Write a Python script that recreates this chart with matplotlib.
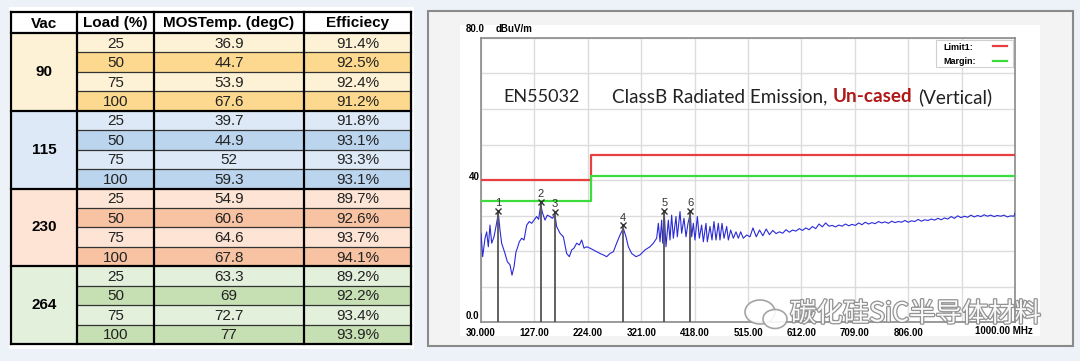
"""
Thermal / efficiency table and EN55032 radiated emission scan
"""

import numpy as np
import matplotlib
matplotlib.use('Agg')
import matplotlib.pyplot as plt
from matplotlib.patches import Rectangle, Ellipse
import matplotlib.patheffects as pe

# ---------------- table data ----------------
VAC = [90, 115, 230, 264]
LOAD = [25, 50, 75, 100]
MOS_TEMP = [[36.9, 44.7, 53.9, 67.6],
            [39.7, 44.9, 52, 59.3],
            [54.9, 60.6, 64.6, 67.8],
            [63.3, 69, 72.7, 77]]
EFFICIENCY = [[91.4, 92.5, 92.4, 91.2],
              [91.8, 93.1, 93.3, 93.1],
              [89.7, 92.6, 93.7, 94.1],
              [89.2, 92.2, 93.4, 93.9]]
HEADERS = ['Vac', 'Load (%)', 'MOSTemp. (degC)', 'Efficiecy']

# ---------------- emission scan data ----------------
FREQ = [30, 33, 37.3, 40.3, 43.3, 46.3, 49.4, 53.6, 57.2, 61.5, 64.5, 67.5, 73.6, 77.8,
        82.7, 86.3, 90.0, 93.6, 96.0, 99.6, 103.9, 108.1, 113.0, 117.8, 122.0, 126.3,
        131.1, 134.7, 138.4, 142.0, 146.3, 150.5, 155.3, 159.6, 164.4, 167.4, 173.5,
        179.6, 185.6, 190.5, 194.7, 198.9, 203.8, 208.6, 212.9, 217.1, 221.9, 228.0,
        234.1, 240.1, 246.2, 252.2, 258.3, 264.3, 270.4, 276.4, 282.5, 288.5, 293.4,
        297.6, 303.7, 311.6, 318.8, 327.9, 337.0, 343.0, 349.1, 352.1, 355.2, 358.2,
        360.0, 363.0, 366.0, 370.3, 373.3, 376.3, 379.4, 384.2, 386.6, 391.5, 394.5,
        398.7, 402.4, 406.0, 410.2, 412.7, 415.7, 418.7, 423.0, 426.6, 430.8, 433.9,
        438.7, 441.1, 446.0, 449.6, 453.2, 456.9, 461.1, 464.1, 467.8, 471.4, 476.3,
        479.3, 483.5, 488.4, 493.2, 497.4, 501.7, 506.5, 512.6, 518.6,
        524, 530, 536, 542, 548, 554, 560, 566, 572, 578, 584, 590, 596, 602, 608, 614,
        620, 626, 632, 638, 644, 650, 656, 662, 668, 674, 680, 686, 692, 698, 704, 710,
        716, 722, 728, 734, 740, 746, 752, 758, 764, 770, 776, 782, 788, 794, 800, 806,
        812, 818, 824, 830, 836, 842, 848, 854, 860, 866, 872, 878, 884, 890, 896, 902,
        908, 914, 920, 926, 932, 938, 944, 950, 956, 962, 968, 974, 980, 986, 992, 998,
        1000]
LEVEL = [25.0, 18.4, 23.6, 25.4, 21.2, 27.3, 22.2, 24.0, 26.9, 30.6, 25.9, 22.2, 19.3, 17.0,
         16.1, 13.2, 15.6, 19.8, 20.8, 22.6, 23.6, 23.1, 27.3, 28.3, 27.8, 28.7,
         29.7, 28.9, 33.0, 30.6, 28.7, 30.1, 29.7, 29.2, 30.1, 26.9, 25.0,
         24.0, 19.3, 18.4, 20.3, 20.8, 22.2, 21.7, 23.1, 20.8, 21.2, 20.8,
         20.3, 19.8, 19.3, 18.9, 18.4, 19.3, 19.8, 22.2, 24.5, 26.4, 24.0,
         21.2, 19.3, 18.4, 18.9, 20.3, 21.2, 22.2, 23.6, 27.8, 22.6, 28.7,
         22.2, 30.6, 21.2, 28.7, 23.1, 30.1, 23.6, 29.7, 24.0, 31.1, 25.0,
         29.2, 24.0, 27.8, 30.6, 24.0, 27.8, 23.1, 29.7, 23.6, 27.3, 22.6,
         27.8, 22.6, 26.9, 23.1, 28.3, 23.1, 27.8, 23.1, 27.8, 23.6, 26.9,
         23.1, 25.9, 23.6, 25.4, 23.6, 25.4, 23.6, 24.5, 24.0,
         26.5, 24.0, 25.9, 24.3, 26.2, 24.6, 25.8, 24.9, 25.4, 25.0, 26.0, 25.3, 25.9, 25.6, 26.3, 25.8,
         26.5, 26.0, 26.9, 26.3, 27.6, 26.8, 27.9, 27.0, 27.2, 26.8, 27.3, 27.0, 27.6, 27.1, 27.5, 27.2,
         27.9, 27.4, 28.1, 27.6, 28.0, 27.7, 28.3, 27.9, 28.2, 27.8, 28.4, 28.0, 28.3, 28.1, 28.6, 28.1,
         28.5, 28.3, 28.9, 28.4, 28.8, 28.6, 29.0, 28.7, 29.2, 28.8, 29.3, 29.0, 29.7, 29.2, 29.9, 29.4,
         29.8, 29.5, 30.1, 29.6, 30.0, 29.7, 30.2, 29.8, 30.1, 29.7, 30.0, 29.8, 30.1, 29.6, 29.9, 29.8,
         30.7]

LIMIT_FREQ = [30, 230, 230, 1000]
LIMIT_DB = [40, 40, 47, 47]
MARGIN_DB = [34, 34, 41, 41]

MARKER_FREQ = [61.5, 138.4, 164.4, 288.5, 363.0, 410.2]
MARKER_DB = [30.6, 33.0, 30.1, 26.4, 30.6, 30.6]

XTICKS = [30, 127, 224, 321, 418, 515, 612, 709, 806, 903, 1000]
XTICK_LABELS = ['30.000', '127.00', '224.00', '321.00', '418.00', '515.00',
                '612.00', '709.00', '806.00', '', '']

W, H = 1080, 361
fig = plt.figure(figsize=(W / 100, H / 100), dpi=100)
fig.patch.set_facecolor('#edf1f8')

# background overlay in pixel coordinates
bg = fig.add_axes([0, 0, 1, 1], zorder=0)
bg.set_xlim(0, W)
bg.set_ylim(H, 0)
bg.axis('off')

# ---------------- table ----------------
bg.add_patch(Rectangle((9, 7), 405, 342, fc='white', ec='none'))

col_x = [11, 77, 154, 304, 411]
top, head_h, row_h = 12, 21, 19.44
light = ['#fef2d6', '#dde9f6', '#fde4d5', '#e3f0dc']
dark = ['#fcd98e', '#bcd5ee', '#f7c3a2', '#c6e0b4']

tfont = dict(family='Liberation Sans', fontsize=11)
for c, h in enumerate(HEADERS):
    bg.text((col_x[c] + col_x[c + 1]) / 2, top + head_h / 2 + 1, h,
            ha='center', va='center', fontweight='bold', **tfont)

for g, vac in enumerate(VAC):
    y0 = top + head_h + g * 4 * row_h
    bg.add_patch(Rectangle((col_x[0], y0), col_x[1] - col_x[0], 4 * row_h,
                           fc=light[g], ec='none'))
    bg.text((col_x[0] + col_x[1]) / 2, y0 + 2 * row_h, str(vac), ha='center',
            va='center', fontweight='bold', **tfont)
    for r, load in enumerate(LOAD):
        yr = y0 + r * row_h
        bg.add_patch(Rectangle((col_x[1], yr), col_x[4] - col_x[1], row_h,
                               fc=dark[g] if r % 2 else light[g], ec='none'))
        vals = [str(load), f'{MOS_TEMP[g][r]:g}', f'{EFFICIENCY[g][r]:.1f}%']
        for c, v in enumerate(vals):
            bg.text((col_x[c + 1] + col_x[c + 2]) / 2, yr + row_h / 2 + 1, v,
                    ha='center', va='center', color='#222222', **tfont)
        if r > 0:
            bg.plot([col_x[1], col_x[4]], [yr, yr], color='#333333', lw=0.9)
    bg.plot([col_x[0], col_x[4]], [y0, y0], color='black', lw=1.6)

bottom = top + head_h + 16 * row_h
bg.plot([col_x[0], col_x[4]], [bottom, bottom], color='black', lw=1.6)
bg.plot([col_x[0], col_x[4]], [top, top], color='black', lw=1.6)
for x in col_x:
    bg.plot([x, x], [top, bottom], color='black', lw=1.6)

# ---------------- chart panel ----------------
bg.add_patch(Rectangle((428, 11), 645, 335, fc='#f3f3f3', ec='#8a8a8a', lw=1.5))
bg.add_patch(Rectangle((460, 25), 580, 311, fc='white', ec='none'))

ax = fig.add_axes([481 / W, (H - 322) / H, 534 / W, 284 / H], zorder=1)
ax.set_facecolor('white')
ax.set_xlim(30, 1000)
ax.set_ylim(0, 80)
ax.set_xticks(XTICKS)
ax.set_xticklabels(XTICK_LABELS, fontsize=7, fontweight='bold',
                   family='Liberation Sans')
ax.set_yticks(np.arange(0, 81, 10))
ax.set_yticklabels([])
ax.tick_params(length=0, pad=4)
ax.grid(True, color='#dcdcdc', lw=1)
ax.set_axisbelow(True)
for s in ax.spines.values():
    s.set_color('#8a8a8a')
    s.set_linewidth(1.2)

ax.plot(LIMIT_FREQ, LIMIT_DB, color='#e84040', lw=1.6, zorder=3)
ax.plot(LIMIT_FREQ, MARGIN_DB, color='#3ddc3d', lw=1.6, zorder=3)
ax.plot(FREQ, LEVEL, color='#2a2ad8', lw=0.8, zorder=4)

for i, (f, d) in enumerate(zip(MARKER_FREQ, MARKER_DB)):
    ax.plot([f, f], [0, d], color='#555555', lw=1.3, zorder=5)
    ax.plot(f, d + 0.8, marker='x', ms=4, mew=1, color='#333333', zorder=6)
    ax.text(f, d + 1.6, str(i + 1), ha='center', va='bottom', fontsize=8,
            color='#333333', family='Liberation Sans', zorder=6)

ax.annotate('1000.00 MHz', xy=(1000, 0), xycoords=('data', 'axes fraction'),
            xytext=(-40, -4), textcoords='offset pixels', ha='left', va='top',
            fontsize=7, fontweight='bold', family='Liberation Sans')

# foreground overlay
fg = fig.add_axes([0, 0, 1, 1], zorder=5)
fg.set_xlim(0, W)
fg.set_ylim(H, 0)
fg.axis('off')
fg.patch.set_alpha(0)

lab = dict(fontsize=7, fontweight='bold', family='Liberation Sans')
fg.text(466, 34, '80.0', ha='left', va='bottom', **lab)
fg.text(496, 34, 'dBuV/m', ha='left', va='bottom', **lab)
fg.text(469, 182, '40', ha='left', va='bottom', **lab)
fg.text(466, 321, '0.0', ha='left', va='bottom', **lab)

# legend
fg.add_patch(Rectangle((936, 40), 77, 27, fc='white', ec='#d0d0d0', lw=0.8))
fg.text(943, 47, 'Limit1:', ha='left', va='center', fontsize=6.5,
        fontweight='bold', family='Liberation Sans')
fg.text(943, 61, 'Margin:', ha='left', va='center', fontsize=6.5,
        fontweight='bold', family='Liberation Sans')
fg.plot([993, 1007], [46, 46], color='#e84040', lw=1.6)
fg.plot([993, 1007], [61, 61], color='#3ddc3d', lw=1.6)

# title line, pieces chained one after another
tkw = dict(family='Lato', va='center', ha='left')
fg.text(503, 97, 'EN55032', color='#222222', fontsize=13, **tkw)
renderer = fig.canvas.get_renderer()
x = 612
for piece, color, weight in [('ClassB Radiated Emission,', '#222222', 'normal'),
                             ('Un-cased', '#b01818', 'bold'),
                             ('(Vertical)', '#222222', 'normal')]:
    t = fg.text(x, 97, piece, color=color, fontweight=weight, fontsize=13.6, **tkw)
    x = t.get_window_extent(renderer).x1 + 5.5

# watermark
fg.add_patch(Ellipse((760, 312), 30, 24, fc='white', ec='#9a9a9a', lw=1.2, alpha=0.9))
fg.add_patch(Ellipse((775, 319), 24, 19, fc='white', ec='#9a9a9a', lw=1.2, alpha=0.9))
wm = fg.text(790, 314, '碳化硅SiC半导体材料', ha='left', va='center', fontsize=19,
             family=['Noto Sans CJK SC', 'DejaVu Sans'], color='white', alpha=0.95)
wm.set_path_effects([pe.withStroke(linewidth=1.8, foreground='#8c8c8c')])

plt.savefig('out.png', dpi=100)
